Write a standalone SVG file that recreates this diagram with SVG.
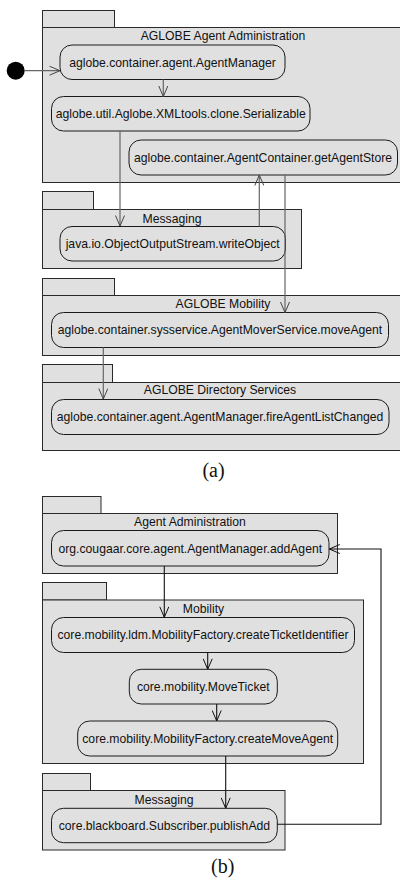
<svg xmlns="http://www.w3.org/2000/svg" width="400" height="880" viewBox="0 0 400 880">
  <style>
    .pkg { fill: #e0e0e0; stroke: #2a2a2a; stroke-width: 1; }
    .node { fill: #e0e0e0; stroke: #1a1a1a; stroke-width: 1; }
    .lbl { font-family: "Liberation Sans", Arial, sans-serif; font-size: 12.2px; fill: #111; text-anchor: middle; }
    .cap { font-family: "Liberation Serif", "Times New Roman", serif; font-size: 20px; fill: #111; text-anchor: middle; }
    .ca { fill: none; stroke: #666; stroke-width: 1.2; }
    .cb { fill: none; stroke: #111; stroke-width: 1.1; }
  </style>
  <defs>
    <marker id="openA" viewBox="0 0 11 10" refX="11" refY="5" markerWidth="11" markerHeight="10" markerUnits="userSpaceOnUse" orient="auto">
      <path d="M0.5,0.5 L11,5 L0.5,9.5" fill="none" stroke="#444" stroke-width="1"/>
    </marker>
    <marker id="openB" viewBox="0 0 11 10" refX="11" refY="5" markerWidth="11" markerHeight="10" markerUnits="userSpaceOnUse" orient="auto">
      <path d="M0.5,0.5 L11,5 L0.5,9.5" fill="none" stroke="#111" stroke-width="1"/>
    </marker>
  </defs>

  <!-- (a) packages -->
  <g id="pkg-aglobe-admin">
    <rect class="pkg" x="42.5" y="10.5" width="72" height="17"/>
    <rect class="pkg" x="42.5" y="27.5" width="370" height="155"/>
    <text class="lbl" x="223" y="40">AGLOBE Agent Administration</text>
  </g>
  <g id="pkg-aglobe-messaging">
    <rect class="pkg" x="42.5" y="191.5" width="51" height="18"/>
    <rect class="pkg" x="42.5" y="209.5" width="259" height="59"/>
    <text class="lbl" x="172" y="222.5">Messaging</text>
  </g>
  <g id="pkg-aglobe-mobility">
    <rect class="pkg" x="42.5" y="278.5" width="72" height="17"/>
    <rect class="pkg" x="42.5" y="295.5" width="370" height="60"/>
    <text class="lbl" x="223" y="308">AGLOBE Mobility</text>
  </g>
  <g id="pkg-aglobe-directory">
    <rect class="pkg" x="42.5" y="364.5" width="70" height="18"/>
    <rect class="pkg" x="42.5" y="382.5" width="370" height="68"/>
    <text class="lbl" x="220" y="394">AGLOBE Directory Services</text>
  </g>

  <!-- (a) nodes -->
  <g id="start">
    <circle cx="15.7" cy="70.7" r="9" fill="#000"/>
  </g>
  <g id="n-agent-manager">
    <rect class="node" x="60" y="45" width="225" height="34.5" rx="12"/>
    <text class="lbl" x="172.5" y="66.5">aglobe.container.agent.AgentManager</text>
  </g>
  <g id="n-serializable">
    <rect class="node" x="51.5" y="96.5" width="258.5" height="34.5" rx="12"/>
    <text class="lbl" x="180.7" y="118">aglobe.util.Aglobe.XMLtools.clone.Serializable</text>
  </g>
  <g id="n-get-agent-store">
    <rect class="node" x="129" y="140" width="268.5" height="35" rx="12"/>
    <text class="lbl" x="263" y="161.5">aglobe.container.AgentContainer.getAgentStore</text>
  </g>
  <g id="n-write-object">
    <rect class="node" x="60" y="226.5" width="225.5" height="34.5" rx="12"/>
    <text class="lbl" x="172.7" y="248">java.io.ObjectOutputStream.writeObject</text>
  </g>
  <g id="n-move-agent">
    <rect class="node" x="51.5" y="312.5" width="337" height="35" rx="12"/>
    <text class="lbl" x="220" y="334">aglobe.container.sysservice.AgentMoverService.moveAgent</text>
  </g>
  <g id="n-fire-list-changed">
    <rect class="node" x="51.5" y="399.5" width="337.5" height="35" rx="12"/>
    <text class="lbl" x="220" y="421">aglobe.container.agent.AgentManager.fireAgentListChanged</text>
  </g>
  <text class="cap" x="213.5" y="476.5">(a)</text>

  <!-- (b) packages -->
  <g id="pkg-agent-admin">
    <rect class="pkg" x="42.5" y="496.5" width="58.5" height="17"/>
    <rect class="pkg" x="42.5" y="513.5" width="295" height="60"/>
    <text class="lbl" x="190" y="526">Agent Administration</text>
  </g>
  <g id="pkg-mobility">
    <rect class="pkg" x="42.5" y="582.5" width="64" height="17.5"/>
    <rect class="pkg" x="42.5" y="600" width="321" height="163.5"/>
    <text class="lbl" x="203.5" y="613">Mobility</text>
  </g>
  <g id="pkg-messaging">
    <rect class="pkg" x="42.5" y="773.5" width="48" height="17"/>
    <rect class="pkg" x="42.5" y="790.5" width="242.5" height="59.5"/>
    <text class="lbl" x="164" y="803.5">Messaging</text>
  </g>

  <!-- (b) nodes -->
  <g id="n-add-agent">
    <rect class="node" x="51.5" y="530.5" width="277.5" height="35.5" rx="12"/>
    <text class="lbl" x="190.3" y="552.5">org.cougaar.core.agent.AgentManager.addAgent</text>
  </g>
  <g id="n-create-ticket-id">
    <rect class="node" x="51.5" y="617.5" width="303" height="35" rx="12"/>
    <text class="lbl" x="203" y="639">core.mobility.ldm.MobilityFactory.createTicketIdentifier</text>
  </g>
  <g id="n-move-ticket">
    <rect class="node" x="129.3" y="669.3" width="148" height="34.7" rx="12"/>
    <text class="lbl" x="203.3" y="691">core.mobility.MoveTicket</text>
  </g>
  <g id="n-create-move-agent">
    <rect class="node" x="77.7" y="721" width="260" height="35" rx="12"/>
    <text class="lbl" x="207.7" y="742.5">core.mobility.MobilityFactory.createMoveAgent</text>
  </g>
  <g id="n-publish-add">
    <rect class="node" x="51.5" y="808.3" width="225.8" height="34.4" rx="12"/>
    <text class="lbl" x="164.4" y="830">core.blackboard.Subscriber.publishAdd</text>
  </g>
  <text class="cap" x="222.7" y="873">(b)</text>

  <!-- connectors -->
  <g id="connectors">
    <path class="ca" d="M24.5,70.7 H60" marker-end="url(#openA)"/>
    <path class="ca" d="M163.3,79.5 V96.5" marker-end="url(#openA)"/>
    <path class="ca" d="M120,131 V226" marker-end="url(#openA)"/>
    <path class="ca" d="M259.3,226.5 V175" marker-end="url(#openA)"/>
    <path class="ca" d="M285,175 V312.5" marker-end="url(#openA)"/>
    <path class="ca" d="M103.3,347.5 V399" marker-end="url(#openA)"/>

    <path class="cb" d="M164.3,566 V617.3" marker-end="url(#openB)"/>
    <path class="cb" d="M207.7,652.5 V669.3" marker-end="url(#openB)"/>
    <path class="cb" d="M216.7,704 V721" marker-end="url(#openB)"/>
    <path class="cb" d="M225.7,756 V808.3" marker-end="url(#openB)"/>
    <path class="cb" d="M277.3,824.3 H381 V549 H329.3" marker-end="url(#openB)"/>
  </g>
</svg>
